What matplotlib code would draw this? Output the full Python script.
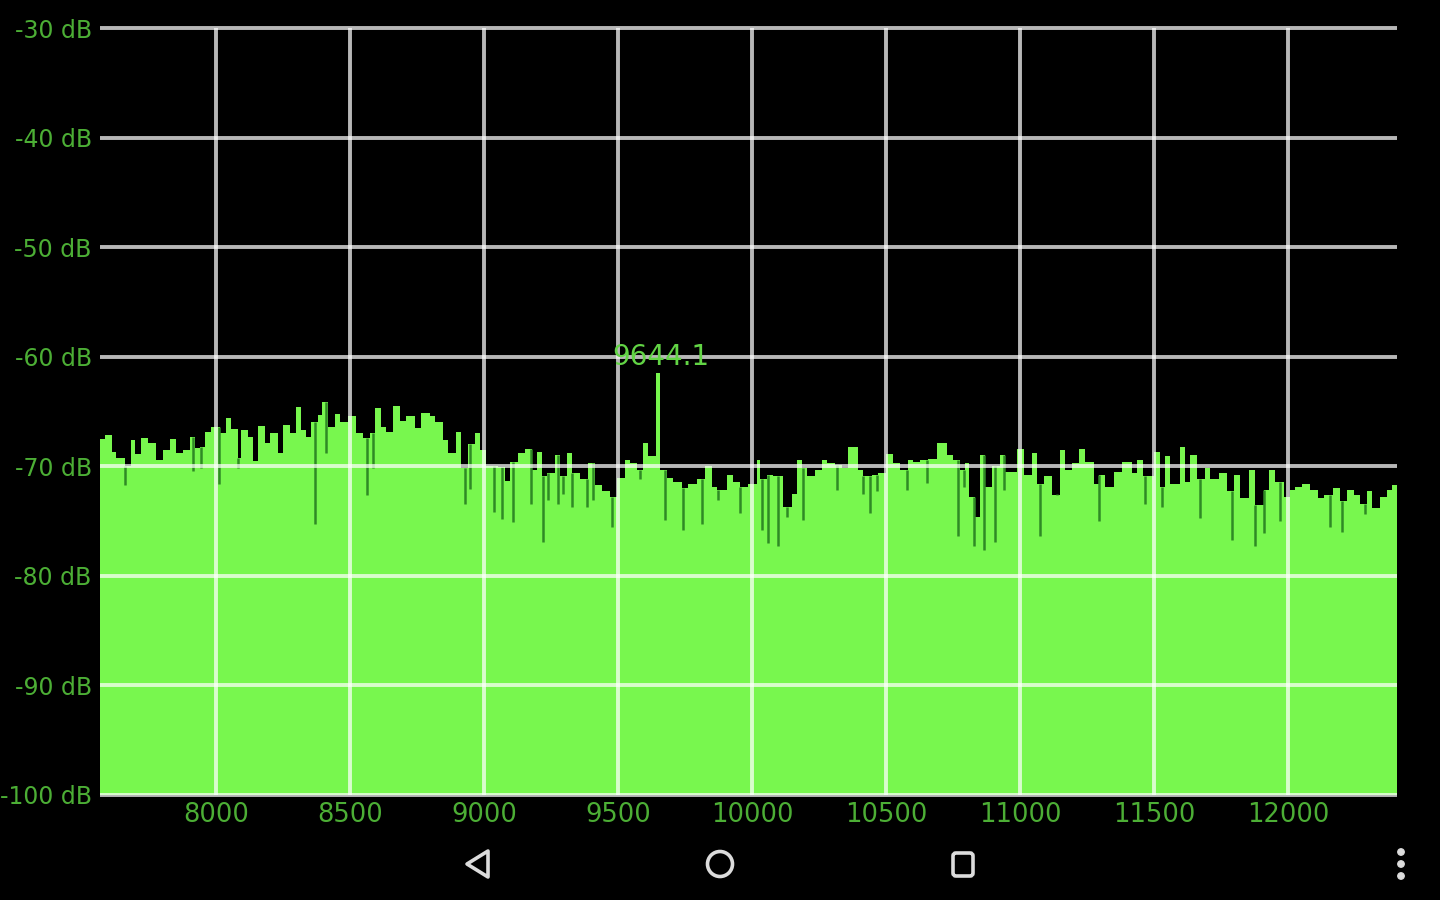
import numpy as np
import matplotlib
matplotlib.use("Agg")
import matplotlib.pyplot as plt
from matplotlib.patches import Polygon, Circle, FancyBboxPatch

# ---------------- data ----------------
x_ticks = [8000, 8500, 9000, 9500, 10000, 10500, 11000, 11500, 12000]
y_ticks = [-100, -90, -80, -70, -60, -50, -40, -30]
y_tick_labels = ["-100 dB", "-90 dB", "-80 dB", "-70 dB", "-60 dB", "-50 dB", "-40 dB", "-30 dB"]
freq_min, freq_max = 7567, 12407
db_min, db_max = -100, -30

# spectrum envelope (bin start frequency in Hz, level in dB)
spec_freq = [
    7567, 7585, 7610, 7628, 7659, 7684, 7697, 7721, 7746, 7777, 7802, 7827, 7852, 7877,
    7902, 7920, 7939, 7958, 7983, 8014, 8039, 8057, 8082, 8095, 8119, 8138, 8157, 8182,
    8200, 8231, 8250, 8275, 8300, 8318, 8337, 8356, 8381, 8396, 8418, 8443, 8461, 8493,
    8524, 8549, 8573, 8592, 8617, 8636, 8660, 8685, 8710, 8741, 8766, 8797, 8816, 8847,
    8866, 8897, 8915, 8940, 8965, 8984, 9009, 9052, 9077, 9096, 9127, 9152,
    9180, 9196, 9215, 9234, 9265, 9284, 9308, 9327, 9358, 9389, 9414, 9439, 9470, 9497,
    9526, 9545, 9570, 9594, 9613, 9640, 9655, 9682, 9706, 9738, 9762, 9793, 9825, 9850,
    9868, 9905, 9930, 9955, 9986, 10017, 10030, 10055, 10080, 10117, 10148, 10167, 10185,
    10204, 10235, 10260, 10279, 10310, 10335, 10360, 10397, 10415, 10446, 10471, 10500,
    10527, 10552, 10583, 10602, 10627, 10658, 10690, 10726, 10751, 10776,
    10795, 10808, 10833, 10852, 10871, 10896, 10927, 10945, 10989, 11014, 11045, 11063,
    11088, 11119, 11150, 11169, 11194, 11219, 11244, 11275, 11294, 11318, 11350, 11381,
    11418, 11437, 11461, 11499, 11524, 11542, 11561, 11598, 11617, 11636, 11660, 11692,
    11710, 11741, 11772, 11797, 11822, 11853, 11878, 11909, 11928, 11953, 11984, 12009,
    12027, 12052, 12083, 12114, 12133, 12170, 12195, 12220, 12245, 12270, 12295, 12313,
    12345, 12369, 12388,
]
spec_db = [
    -67.5, -67.1, -68.7, -69.2, -70.0, -67.6, -68.9, -67.4, -67.9, -69.4, -68.5, -67.5, -68.8, -68.5,
    -67.3, -68.3, -68.2, -66.9, -66.4, -67.0, -65.6, -66.6, -69.2, -66.7, -67.3, -69.5, -66.3, -67.9,
    -67.0, -68.8, -66.2, -67.0, -64.6, -66.7, -67.3, -66.0, -65.3, -64.1, -66.4, -65.2, -66.0, -65.4,
    -67.0, -67.4, -67.0, -64.7, -66.4, -66.9, -64.5, -65.9, -65.4, -66.5, -65.1, -65.4, -66.0, -67.6,
    -68.8, -66.9, -70.2, -68.0, -67.0, -68.5, -70.0, -70.1, -71.3, -69.6, -68.8, -68.4,
    -70.3, -68.7, -70.9, -70.6, -69.0, -70.9, -68.8, -70.6, -71.2, -69.7, -71.7, -72.3, -72.8, -71.1,
    -69.4, -69.7, -70.3, -67.9, -69.1, -61.5, -70.3, -71.1, -71.4, -72.0, -71.6, -71.2, -70.0, -71.9,
    -72.2, -70.8, -71.4, -71.9, -71.6, -69.4, -71.2, -70.8, -70.9, -73.7, -72.5, -69.4, -70.2,
    -70.9, -70.3, -69.4, -69.7, -69.9, -70.2, -68.2, -70.3, -70.9, -70.8, -70.6, -68.9,
    -69.7, -70.3, -69.4, -69.6, -69.4, -69.3, -67.9, -69.0, -69.4, -70.3,
    -69.7, -72.8, -74.6, -69.0, -71.9, -70.0, -69.0, -70.5, -68.4, -70.8, -68.8, -71.6,
    -70.9, -72.6, -68.5, -70.3, -69.7, -68.4, -69.6, -71.6, -70.8, -71.9, -70.5, -69.6,
    -70.6, -69.4, -70.9, -68.7, -71.9, -69.1, -71.6, -68.2, -71.4, -69.0, -71.2, -70.2,
    -71.2, -70.6, -72.3, -70.8, -72.9, -70.3, -73.5, -72.2, -70.3, -71.4, -72.8, -72.2,
    -71.9, -71.6, -72.2, -72.9, -72.6, -72.0, -73.2, -72.2, -72.6, -73.4, -72.3, -73.8,
    -72.8, -72.2, -71.7,
]

# narrow single-bin dips (frequency in Hz, level in dB)
dip_freq = [
    7659, 7914, 7945, 8010, 8082, 8368, 8412, 8565, 8586, 8928, 8947, 9037, 9067, 9108, 9177,
    9221, 9240, 9277, 9296, 9327, 9383, 9408, 9476, 9582, 9675, 9744, 9812, 9874, 9955,
    10036, 10061, 10098, 10129, 10191, 10316, 10415, 10440, 10465, 10577, 10652, 10770,
    10790, 10827, 10864, 10908, 10939, 11076, 11138, 11294, 11468, 11530, 11673, 11791,
    11878, 11909, 11971, 12158, 12201, 12289,
]
dip_db = [
    -71.7, -70.4, -70.2, -71.6, -70.2, -75.3, -68.8, -72.6, -70.2, -73.4, -72.1, -74.2, -74.8, -75.1, -73.4,
    -76.9, -73.1, -73.4, -72.5, -73.7, -73.7, -73.1, -75.5, -71.2, -74.9, -75.8, -75.3, -73.1, -74.3,
    -75.8, -77.0, -77.3, -74.6, -74.9, -72.2, -72.5, -74.3, -72.3, -72.2, -71.5, -76.4,
    -71.9, -77.3, -77.6, -76.9, -72.2, -76.4, -72.5, -75.0, -73.4, -73.7, -74.7, -76.7,
    -77.3, -76.1, -75.0, -75.5, -76.0, -74.4,
]

peak_freq = 9644.1
peak_label = "9644.1"

# ---------------- styling ----------------
FILL = "#78f74e"
DIP = "#2f8a25"
LABEL = "#4cae35"
PEAK_LABEL = "#62d445"
NAV = "#dcdcdc"

W, H, DPI = 1440, 900, 100
fig = plt.figure(figsize=(W / DPI, H / DPI), dpi=DPI, facecolor="black")
ax = fig.add_axes([100 / W, 1 - 795 / H, (1397 - 100) / W, (795 - 28) / H])
ax.set_facecolor("black")
ax.set_xlim(freq_min, freq_max)
ax.set_ylim(db_min, db_max)

f_edges = np.array(spec_freq + [freq_max], dtype=float)
levels = np.array(spec_db + [spec_db[-1]], dtype=float)
ax.fill_between(f_edges, levels, db_min, step="post", color=FILL, linewidth=0, zorder=1)

# dips drawn from the bin level down to the dip level
sf = np.array(spec_freq, dtype=float)
sd = np.array(spec_db, dtype=float)
idx = np.clip(np.searchsorted(sf, np.array(dip_freq), side="right") - 1, 0, len(sd) - 1)
tops = sd[idx]
ax.vlines(dip_freq, dip_db, tops, colors=DIP, linewidth=1.8, zorder=2)

# grid
grid_kw = dict(color="white", alpha=0.72, linewidth=2.8, zorder=2.5, clip_on=False)
ax.hlines(y_ticks, freq_min, freq_max, **grid_kw)
ax.vlines(x_ticks, db_min, db_max, **grid_kw)

for s in ax.spines.values():
    s.set_visible(False)
ax.set_xticks(x_ticks)
ax.set_xticklabels([str(t) for t in x_ticks], color=LABEL, fontsize=18.5)
ax.set_yticks(y_ticks)
ax.set_yticklabels(y_tick_labels, color=LABEL, fontsize=17)
ax.tick_params(axis="both", length=0)
ax.tick_params(axis="x", pad=5)
ax.tick_params(axis="y", pad=6)

ax.text(peak_freq + 15, -60.0, peak_label, color=PEAK_LABEL, fontsize=20,
        ha="center", va="center", zorder=4)

# ---------------- navigation bar (decoration) ----------------
ov = fig.add_axes([0, 0, 1, 1], facecolor="none")
ov.set_xlim(0, W)
ov.set_ylim(H, 0)
ov.axis("off")
ov.add_patch(Polygon([[488, 851], [488, 877], [467, 864]], closed=True, fill=False,
                     edgecolor=NAV, linewidth=2.6, joinstyle="round"))
ov.add_patch(Circle((720, 864), 12.5, fill=False, edgecolor=NAV, linewidth=2.6))
ov.add_patch(FancyBboxPatch((953, 853), 20, 23, boxstyle="round,pad=0,rounding_size=3",
                            fill=False, edgecolor=NAV, linewidth=2.6))
for yy in (852, 864, 876):
    ov.add_patch(Circle((1401, yy), 3.2, color=NAV))

fig.savefig("out.png", dpi=DPI, facecolor="black")
